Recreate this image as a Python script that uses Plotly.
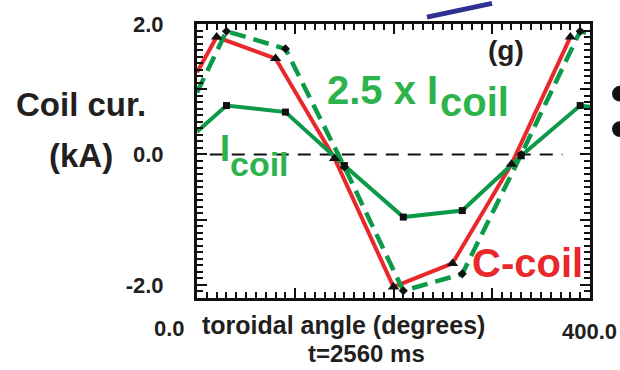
import plotly.graph_objects as go

# ---------------- data ----------------
angles_c = [20, 80, 140, 200, 260, 320, 380]
c_coil = [1.80, 1.47, -0.06, -2.03, -1.67, -0.15, 1.80]
c_coil_edge0 = 1.26

angles_i = [30, 90, 150, 210, 270, 330, 390]
i_coil = [0.75, 0.65, -0.17, -0.96, -0.86, -0.02, 0.75]
i_coil_edges = [0.35, 0.73]          # values at 0 and 400 deg
i_coil_x25 = [1.89, 1.62, -0.19, -2.09, -1.83, 0.00, 1.89]
i_coil_x25_edges = [0.95, 1.85]

y_tickvals = [-2, -1, 0, 1, 2]
y_ticktext = ["-2.0", "", "0.0", "", "2.0"]
x_labels = ["0.0", "400.0"]

# ---------------- styling ----------------
RED = "#E8282B"
GREEN_LINE = "#0C9A49"
GREEN_TEXT = "#2DB34B"
DARK = "#231F20"
INK = "#111111"
FONT = "Liberation Sans, Arial, sans-serif"

W, H = 620, 370
PL, PR, PT, PB = 197, 590, 19, 298


def px(x):
    return (x - PL) / (PR - PL)


def py(y):
    return (PB - y) / (PB - PT)


fig = go.Figure()

# C-coil (red, solid)
fig.add_trace(go.Scatter(x=[0] + angles_c, y=[c_coil_edge0] + c_coil, mode="lines",
                         line=dict(color=RED, width=4), hoverinfo="skip", showlegend=False))
# 2.5 x Icoil (green, dashed)
fig.add_trace(go.Scatter(x=[0] + angles_i + [400],
                         y=[i_coil_x25_edges[0]] + i_coil_x25 + [i_coil_x25_edges[1]],
                         mode="lines", line=dict(color=GREEN_LINE, width=4.5, dash="16px,8px"),
                         hoverinfo="skip", showlegend=False))
# Icoil (green, solid)
fig.add_trace(go.Scatter(x=[0] + angles_i + [400],
                         y=[i_coil_edges[0]] + i_coil + [i_coil_edges[1]],
                         mode="lines", line=dict(color=GREEN_LINE, width=4),
                         hoverinfo="skip", showlegend=False))

# markers
fig.add_trace(go.Scatter(x=angles_c, y=c_coil, mode="markers",
                         marker=dict(symbol="triangle-up", size=10, color=INK),
                         showlegend=False))
fig.add_trace(go.Scatter(x=angles_i, y=i_coil_x25, mode="markers",
                         marker=dict(symbol="diamond", size=7, color=INK),
                         showlegend=False))
fig.add_trace(go.Scatter(x=angles_i, y=i_coil, mode="markers",
                         marker=dict(symbol="square", size=7, color=INK),
                         showlegend=False))

# invisible trace so the top/right tick axes are drawn
fig.add_trace(go.Scatter(x=[0, 400], y=[-2.2, 2.0], mode="markers", xaxis="x2", yaxis="y2",
                         marker=dict(opacity=0), hoverinfo="skip", showlegend=False))

# zero reference (dashed)
fig.add_shape(type="line", xref="x", yref="y", x0=13, x1=372, y0=0, y1=0,
              line=dict(color=INK, width=2, dash="13px,9px"), layer="below")

# fragments from neighbouring panel
fig.add_shape(type="line", xref="paper", yref="paper",
              x0=px(427), y0=py(12), x1=px(492), y1=py(-2),
              line=dict(color="#2E3192", width=5))
for cy in (90, 126):
    fig.add_shape(type="circle", xref="paper", yref="paper",
                  x0=px(612), x1=px(628), y0=py(cy + 8), y1=py(cy - 8),
                  fillcolor=INK, line=dict(width=0))

axis_common = dict(showline=True, linewidth=3, linecolor=INK,
                   ticks="inside", tickwidth=2, tickcolor=INK, ticklen=10,
                   showgrid=False, zeroline=False)
x_minor = dict(ticks="inside", dtick=10, tick0=0, ticklen=6, tickwidth=2, tickcolor=INK)
y_minor = dict(ticks="inside", dtick=0.1, tick0=0, ticklen=6, tickwidth=2, tickcolor=INK)

fig.update_layout(
    xaxis=dict(range=[0, 400], tick0=0, dtick=100, showticklabels=False, minor=x_minor,
               **axis_common),
    yaxis=dict(range=[-2.2, 2.0], tickvals=y_tickvals,
               ticktext=["<b>" + t + "</b>" if t else "" for t in y_ticktext],
               tickfont=dict(family=FONT, size=22, color=DARK), ticklabelstandoff=26,
               minor=y_minor, **axis_common),
    xaxis2=dict(range=[0, 400], overlaying="x", side="top", anchor="y2", tick0=0, dtick=100,
                showticklabels=False, minor=x_minor, **axis_common),
    yaxis2=dict(range=[-2.2, 2.0], overlaying="y", side="right", anchor="x2",
                tickvals=y_tickvals, showticklabels=False, minor=y_minor, **axis_common),
)


def ann(text, x, y, size, color=DARK, xanchor="center", yanchor="middle"):
    fig.add_annotation(text=text, x=px(x), y=py(y), xref="paper", yref="paper",
                       xanchor=xanchor, yanchor=yanchor, showarrow=False,
                       font=dict(family=FONT, size=size, color=color))


def b(t):
    return "<b>" + t + "</b>"


ann(b("Coil cur."), 81, 101, 33)
ann(b("(kA)"), 81, 153, 33)
ann(b(x_labels[0]), 169, 329, 22)
ann(b(x_labels[1]), 589, 332, 22)
ann(b("toroidal angle (degrees)"), 343, 325, 25)
ann(b("t=2560 ms"), 366, 355, 24)
ann(b("(g)"), 506, 46, 28)

ann(b("2.5 x I"), 325, 86, 40, GREEN_TEXT, xanchor="left")
ann(b("coil"), 438, 98, 40, GREEN_TEXT, xanchor="left")
ann(b("I"), 218, 146, 36, GREEN_TEXT, xanchor="left")
ann(b("coil"), 228, 162, 34, GREEN_TEXT, xanchor="left")
ann(b("C-coil"), 470, 262, 40, RED, xanchor="left")

fig.update_layout(width=W, height=H, margin=dict(l=PL, r=W - PR, t=PT, b=H - PB),
                  paper_bgcolor="white", plot_bgcolor="white",
                  font=dict(family=FONT, color=DARK), showlegend=False)

fig.write_html("out.html")
